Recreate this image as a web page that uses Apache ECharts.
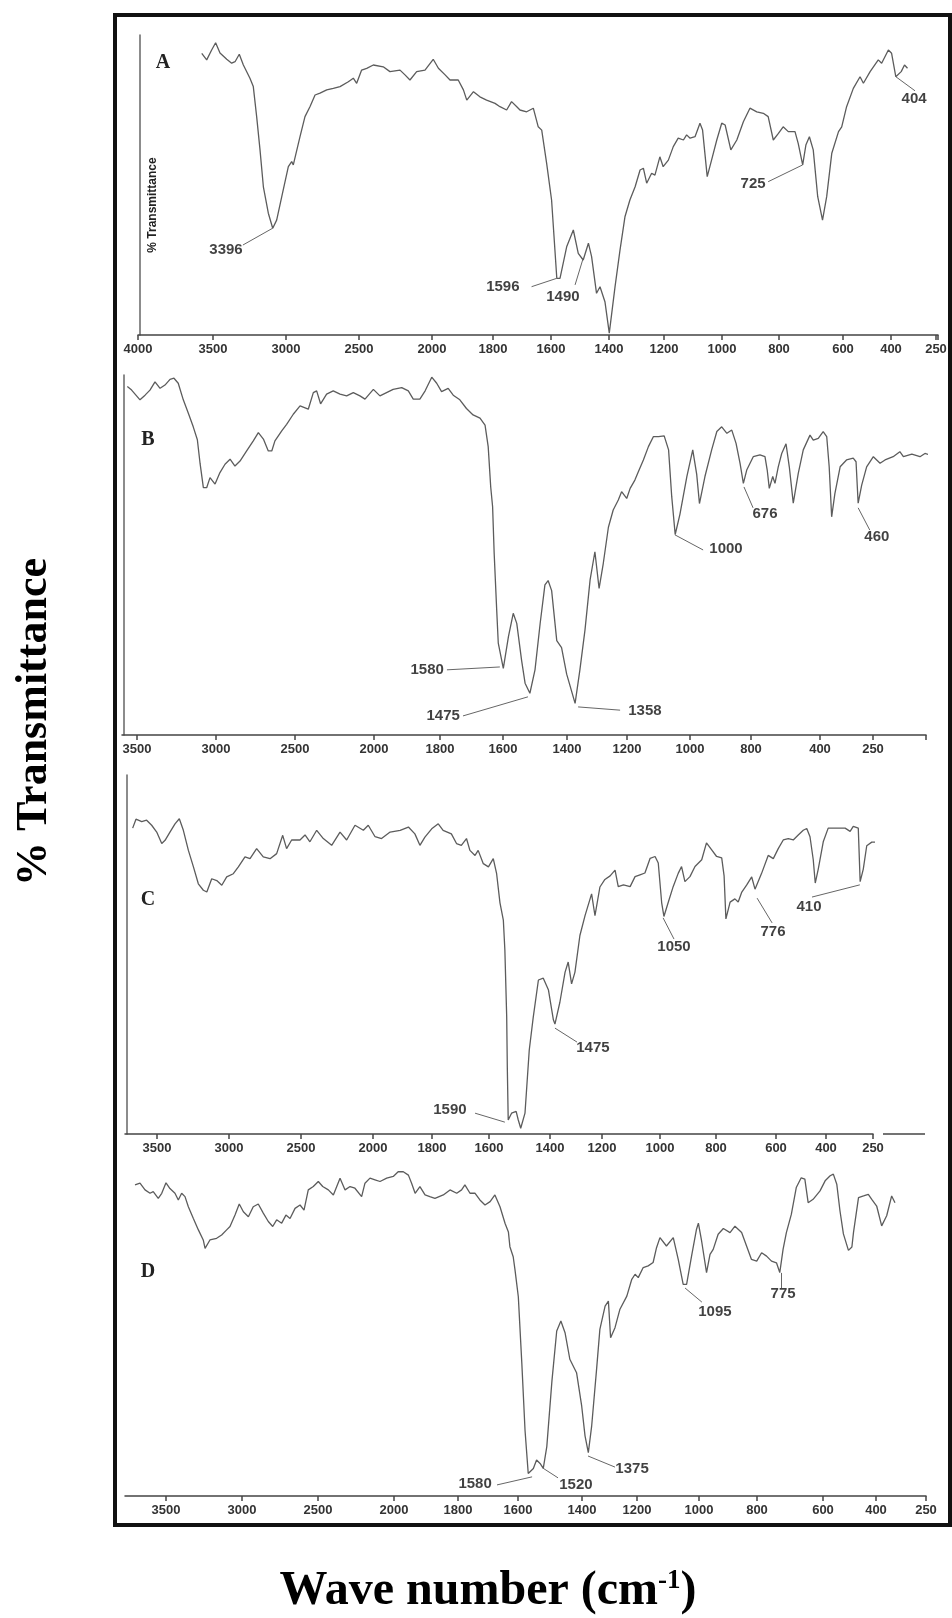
<!DOCTYPE html>
<html>
<head>
<meta charset="utf-8">
<title>IR spectra A-D</title>
<script src="https://cdn.jsdelivr.net/npm/echarts@6/dist/echarts.min.js"></script>
<style>
  html, body { margin: 0; padding: 0; background: #fff; }
  #ir-chart { width: 952px; height: 1618px; }
</style>
</head>
<body>
<div id="ir-chart"></div>
<script>
// printed tick labels (cm-1) under each trace
var ticksA = [4000, 3500, 3000, 2500, 2000, 1800, 1600, 1400, 1200, 1000, 800, 600, 400, 250];
var ticksB = [3500, 3000, 2500, 2000, 1800, 1600, 1400, 1200, 1000, 800, 400, 250];
var ticksC = [3500, 3000, 2500, 2000, 1800, 1600, 1400, 1200, 1000, 800, 600, 400, 250];
var ticksD = [3500, 3000, 2500, 2000, 1800, 1600, 1400, 1200, 1000, 800, 600, 400, 250];

// spectra, [wave number, % transmittance]
var specA = [[3575,93.9],[3542,91.7],[3509,95],[3482,97.4],[3452,94],[3406,91.9],[3372,90.6],[3349,91.1],[3320,93.6],[3292,90],[3247,85.6],[3224,82.8],[3201,72.8],[3178,61.7],[3155,49.4],[3121,40.6],[3091,35.6],[3064,38.3],[3029,46.1],[2984,56.1],[2961,57.8],[2950,56.7],[2904,66.1],[2870,72.8],[2836,76.1],[2801,80],[2767,80.6],[2721,81.7],[2676,82.2],[2630,82.8],[2573,84.4],[2539,85.6],[2516,83.9],[2482,88.3],[2447,88.9],[2402,90],[2334,89.4],[2288,87.8],[2219,88.3],[2185,86.7],[2151,85],[2105,87.8],[2048,88.3],[1996,91.9],[1979,88.9],[1957,86.7],[1941,85],[1914,85],[1897,81.7],[1886,78.3],[1864,81.1],[1843,79.4],[1821,78.3],[1793,77.2],[1776,76.1],[1753,75],[1736,77.8],[1718,76.1],[1707,75],[1684,74.4],[1661,75.6],[1644,69.4],[1632,68.3],[1615,57.2],[1598,45],[1580,18.9],[1569,18.9],[1546,29.4],[1523,35],[1506,27.2],[1489,25],[1471,30.6],[1460,26.1],[1443,13.9],[1431,16.1],[1414,11.1],[1399,0.6],[1378,16.1],[1360,28.3],[1342,39.4],[1324,45],[1305,49.4],[1287,55],[1275,55.6],[1263,50.6],[1245,53.9],[1233,53.3],[1215,59.4],[1203,56.1],[1185,58.3],[1168,62.8],[1151,65.6],[1133,65],[1122,66.7],[1110,65.6],[1093,66.1],[1076,70.6],[1067,68.3],[1051,52.8],[1036,58.3],[1018,65],[1001,70.6],[989,70],[969,61.7],[948,65],[925,71.1],[902,75.6],[878,74.4],[855,73.9],[838,72.8],[820,65],[802,67.2],[787,69.4],[771,67.8],[750,67.8],[740,63.9],[726,56.7],[716,63.3],[705,66.1],[693,61.7],[679,46.1],[664,38.3],[651,46.1],[635,60.6],[614,67.8],[604,69.4],[585,76.1],[557,82.2],[529,86.1],[515,83.9],[487,87.8],[453,91.7],[439,90.6],[411,95],[398,93.9],[384,86.1],[366,87.8],[355,90],[345,88.9]];

var specB = [[3561,96.8],[3534,95.8],[3481,93.1],[3449,94.4],[3418,95.8],[3386,98.1],[3354,96.3],[3323,97.2],[3291,98.8],[3266,99.1],[3239,97.7],[3207,93.1],[3175,89.4],[3144,85.6],[3118,82],[3101,75.5],[3080,68.7],[3059,68.7],[3038,71.5],[3006,69.7],[2975,72.9],[2943,75.2],[2911,76.6],[2880,74.7],[2848,76.1],[2806,78.9],[2764,81.7],[2732,84],[2700,82.2],[2669,78.9],[2647,78.9],[2627,81.7],[2584,84.5],[2553,86.3],[2511,89.1],[2468,91.4],[2416,90.5],[2384,95.1],[2363,95.6],[2338,92],[2300,94.7],[2258,95.6],[2215,94.7],[2173,94.2],[2131,95.1],[2089,94.2],[2057,93.3],[2004,96],[1982,94.2],[1962,95.1],[1942,96],[1916,96.5],[1896,95.6],[1881,93.3],[1861,93.3],[1845,95.6],[1825,99.4],[1810,97.7],[1795,95.4],[1774,96.3],[1758,94.4],[1737,93.1],[1716,90.7],[1695,88.9],[1673,88],[1657,86.1],[1647,80.1],[1639,68.9],[1633,63.4],[1628,50.4],[1620,34.7],[1615,25.5],[1599,18.5],[1583,27.3],[1568,33.8],[1557,31],[1542,20.8],[1531,14.4],[1516,11.6],[1500,18.1],[1484,30.9],[1469,41.7],[1459,42.9],[1448,40.1],[1432,26.2],[1417,24.3],[1401,16.9],[1373,8.8],[1357,18.1],[1340,29.2],[1323,43.1],[1307,50.9],[1293,40.7],[1279,47.7],[1262,57.7],[1246,62.5],[1229,65.3],[1218,67.6],[1201,65.7],[1190,68.5],[1175,70.8],[1164,73.1],[1148,76.4],[1132,80.1],[1116,82.9],[1100,82.9],[1082,83.1],[1068,79.2],[1058,66.2],[1047,55.7],[1032,61.3],[1010,71.8],[991,79.2],[978,72.4],[969,64.3],[951,71.8],[929,79.2],[912,84.3],[896,85.6],[879,83.8],[863,84.7],[849,81],[836,75.5],[825,69.9],[814,73.6],[787,77.3],[748,77.8],[719,77.3],[706,73.6],[694,68.5],[674,71.8],[661,69.9],[642,74.5],[622,78.2],[597,80.9],[578,74.5],[555,64.4],[526,72.7],[497,79.2],[458,83.3],[439,81.9],[410,82.4],[391,84.3],[381,82.9],[374,74.5],[367,60.6],[358,67],[343,74.5],[325,76.4],[306,76.9],[298,75.9],[292,64.4],[282,69.4],[268,74.5],[249,77.3],[230,75.5],[216,76.4],[193,77.3],[174,78.7],[164,77.3],[140,78],[117,77.3],[103,78.2],[79,77.5],[51,77.5]];

var specC = [[3669,85.2],[3646,87.7],[3606,87],[3572,87.4],[3537,86],[3502,84.1],[3467,80.9],[3444,81.8],[3410,84.1],[3375,86.4],[3345,87.8],[3317,84.6],[3282,79],[3247,74.4],[3213,69.7],[3178,67.9],[3154,67.4],[3120,71.1],[3085,70.6],[3050,69.3],[3016,71.6],[2970,72.5],[2935,74.4],[2889,77.2],[2854,76.7],[2808,79.5],[2762,77.2],[2715,76.7],[2669,78.1],[2627,83.2],[2600,79.5],[2565,81.9],[2507,81.9],[2472,83.3],[2438,81.4],[2391,84.6],[2345,82.3],[2287,80.4],[2229,84.1],[2183,81.9],[2125,86],[2067,84.6],[2033,86],[1993,82.8],[1971,82.3],[1942,84.1],[1908,84.6],[1880,85.5],[1858,83.6],[1841,80.4],[1824,82.7],[1801,85],[1778,86.4],[1761,84.6],[1732,83.6],[1714,80.9],[1697,80.4],[1679,82.3],[1667,79],[1649,77.6],[1638,79],[1620,75.3],[1602,74.4],[1586,76.7],[1575,72.5],[1564,64.4],[1553,59.6],[1548,51.3],[1542,32.7],[1540,18.7],[1537,3.9],[1526,5.8],[1511,6.3],[1504,3.9],[1496,1.6],[1482,5.8],[1468,23.4],[1455,32.5],[1438,42.9],[1422,43.4],[1405,40.1],[1387,31.8],[1381,30.6],[1362,36.7],[1342,45.1],[1330,47.9],[1317,41.8],[1304,45.1],[1285,55.3],[1265,60.9],[1240,66.9],[1227,60.8],[1208,68.8],[1190,70.9],[1172,71.9],[1155,73.5],[1144,68.9],[1126,69.4],[1103,68.9],[1086,71.7],[1069,72.2],[1052,72.7],[1034,76.8],[1017,77.3],[1006,75.5],[994,64.4],[986,60.6],[971,64.4],[953,68.9],[935,72.6],[923,74.5],[911,70.3],[893,71.7],[875,74.5],[851,76.4],[834,81.1],[816,79.2],[798,77.3],[781,76.9],[773,71.9],[767,59.9],[753,64.6],[737,65.5],[726,64.6],[714,67.4],[698,69.3],[681,71.6],[670,68.2],[648,72.6],[626,77.6],[609,76.7],[591,79.5],[571,81.9],[551,82.3],[531,81.9],[511,83.3],[491,84.6],[477,85.1],[464,82.8],[451,76.4],[443,69.9],[431,73.8],[411,81.4],[393,85.2],[366,85.2],[339,85.2],[323,84.3],[313,85.7],[297,85.2],[291,70.3],[281,73.8],[270,80.3],[254,81.3],[233,81.3],[217,81.3],[201,81.7],[190,85],[183,81.3],[164,82.2],[137,82.7],[116,81.7],[84,82.2]];

var specD = [[3704,92.6],[3671,93.1],[3638,91.1],[3605,90.1],[3584,90.6],[3551,88.6],[3528,90.1],[3500,93.2],[3474,91.5],[3441,90.1],[3419,88.1],[3397,90.1],[3375,89.1],[3353,86.1],[3320,82.6],[3287,79.2],[3255,76.2],[3243,73.7],[3211,76.2],[3167,76.7],[3134,77.7],[3101,79.2],[3079,80.2],[3046,83.6],[3018,86.9],[2991,84.6],[2958,83.1],[2926,86.1],[2893,86.9],[2860,84.2],[2827,81.7],[2798,80.2],[2772,82.2],[2739,81.2],[2711,83.6],[2684,82.6],[2651,85.6],[2618,86.6],[2592,85.1],[2564,91.1],[2531,92.1],[2498,93.6],[2469,92.1],[2432,91.1],[2399,89.6],[2355,94.6],[2322,91.1],[2289,92.1],[2257,91.6],[2213,89.1],[2191,93.1],[2158,94.6],[2125,94.1],[2092,93.6],[2048,94.6],[2005,95.1],[1987,96.5],[1971,96.5],[1955,95.5],[1945,93.1],[1934,90.1],[1919,92.1],[1903,89.6],[1888,89.1],[1872,88.6],[1846,89.6],[1825,91.1],[1804,90.1],[1788,91.1],[1777,92.6],[1760,90.1],[1743,90.1],[1727,88.1],[1710,86.6],[1693,87.6],[1677,89.6],[1660,86.1],[1643,81.1],[1632,78.6],[1627,74.2],[1616,71.2],[1610,67.3],[1599,59.3],[1588,39.4],[1578,19.5],[1568,6.7],[1552,8.2],[1542,10.7],[1531,9.7],[1521,8.2],[1510,14.7],[1494,34.2],[1479,49.1],[1466,52.1],[1453,48.6],[1438,40.7],[1417,36.7],[1401,26.8],[1389,17.9],[1377,12.9],[1365,20.7],[1347,37.7],[1335,49.6],[1316,56.5],[1304,58],[1296,47.1],[1280,50.1],[1262,55.6],[1237,59.5],[1219,64.5],[1207,66],[1196,65],[1180,68],[1164,68.5],[1148,69.5],[1137,73.9],[1126,76.9],[1105,74.4],[1083,76.9],[1067,70.4],[1051,63],[1040,63],[1024,71.4],[1008,79.4],[1002,81.2],[991,75.9],[974,66.5],[962,71.9],[951,73.4],[934,77.9],[916,79.6],[893,78.4],[876,80.3],[853,78.4],[836,74.4],[819,70.4],[801,69.9],[786,72.4],[771,71.4],[756,69.9],[741,69.4],[731,66.5],[721,73.4],[711,78.4],[696,83.8],[681,91.8],[666,94.7],[655,94.3],[645,87.3],[630,88.3],[609,90.8],[592,93.8],[573,95.3],[561,95.8],[548,92.8],[536,84.9],[523,78],[504,73.1],[491,74.1],[485,78.4],[466,88.8],[447,89.3],[429,89.8],[416,88.3],[398,86.3],[383,80.4],[368,83.4],[353,89.3],[343,87.3]];

// peak annotations printed on each trace
var peaksA = ['3396', '1596', '1490', '725', '404'];
var peaksB = ['1580', '1475', '1358', '1000', '676', '460'];
var peaksC = ['1590', '1475', '1050', '776', '410'];
var peaksD = ['1580', '1520', '1375', '1095', '775'];

// where each annotation text and its leader sit, in [wave number, %T]
var notesA = [
  { text: [3411, 28.3], line: [[3295, 30], [3091, 35.6]] },
  { text: [1766, 16], line: [[1667, 16.1], [1580, 18.9]] },
  { text: [1559, 12.7], line: [[1517, 16.7], [1489, 25.6]] },
  { text: [891, 50.3], line: [[838, 51.1], [726, 56.7]] },
  { text: [323, 78.7], line: [[384, 86.1], [320, 81.4]] }
];
var notesB = [
  { text: [1839, 18.1], line: [[1778, 18.1], [1610, 18.9]] },
  { text: [1790, 5.3], line: [[1727, 5.3], [1522, 10.6]] },
  { text: [1143, 6.7], line: [[1363, 7.8], [1223, 6.9]] },
  { text: [882, 51.7], line: [[1048, 55.6], [957, 51.4]] },
  { text: [719, 61.4], line: [[823, 68.9], [788, 63.1]] },
  { text: [239, 55], line: [[292, 63.1], [259, 56.9]] }
];
var notesC = [
  { text: [1737, 6.7], line: [[1649, 5.8], [1548, 3.3]] },
  { text: [1235, 24], line: [[1381, 29.5], [1296, 25.6]] },
  { text: [950, 52.1], line: [[989, 60.2], [950, 54.3]] },
  { text: [610, 56.3], line: [[663, 65.7], [613, 58.8]] },
  { text: [468, 63.2], line: [[456, 66], [292, 69.4]] }
];
var notesD = [
  { text: [1743, 3.6], line: [[1670, 3.3], [1556, 5.7]] },
  { text: [1419, 3.3], line: [[1522, 8.3], [1475, 5.4]] },
  { text: [1218, 8], line: [[1378, 11.9], [1280, 8.6]] },
  { text: [945, 54.8], line: [[1045, 61.9], [990, 57.7]] },
  { text: [721, 60.1], line: [[727, 66.4], [727, 61.9]] }
];

// layout of the four stacked traces (the printed scales are not linear,
// so each printed tick gets its own place on the paper)
var panels = [
  { letter: 'A', ticks: ticksA, spec: specA, peaks: peaksA, notes: notesA,
    start: 138, end: 938, top: 35, height: 300, yLine: true, letterAt: [163, 63],
    tickPos: [138, 213, 286, 359, 432, 493, 551, 609, 664, 722, 779, 843, 891, 936] },
  { letter: 'B', ticks: ticksB, spec: specB, peaks: peaksB, notes: notesB,
    start: 122, end: 926, top: 375, height: 360, yLine: true, letterAt: [148, 440],
    tickPos: [137, 216, 295, 374, 440, 503, 567, 627, 690, 751, 820, 873] },
  { letter: 'C', ticks: ticksC, spec: specC, peaks: peaksC, notes: notesC,
    start: 125, end: 873, top: 775, height: 359, yLine: true, letterAt: [148, 900],
    tickPos: [157, 229, 301, 373, 432, 489, 550, 602, 660, 716, 776, 826, 873] },
  { letter: 'D', ticks: ticksD, spec: specD, peaks: peaksD, notes: notesD,
    start: 125, end: 926, top: 1160, height: 336, yLine: false, letterAt: [148, 1272],
    tickPos: [166, 242, 318, 394, 458, 518, 582, 637, 699, 757, 823, 876, 926] }
];

function toPaper(wn, p) {
  // piecewise linear between printed ticks, extrapolated past the ends
  var t = p.ticks, q = p.tickPos, i = 0;
  while (i < t.length - 2 && wn < t[i + 1]) i++;
  return q[i] + (wn - t[i]) / (t[i + 1] - t[i]) * (q[i + 1] - q[i]);
}

initChart();
function initChart() {
  var dom = document.getElementById('ir-chart');
  var myChart = echarts.init(dom, null, { renderer: 'canvas' });

  var grids = [], xAxes = [], yAxes = [], series = [], graphics = [];

  panels.forEach(function (p, k) {
    grids.push({ left: p.start, top: p.top, width: p.end - p.start, height: p.height,
      outerBoundsMode: 'none', containLabel: false });

    var tickVals = p.tickPos.slice();
    if (tickVals.indexOf(p.end) < 0) tickVals.push(p.end);

    xAxes.push({
      type: 'value', gridIndex: k, min: p.start, max: p.end,
      axisLine: { onZero: false, lineStyle: { color: '#444', width: 1.5 } },
      axisTick: { customValues: tickVals, length: 5, lineStyle: { color: '#444', width: 1.5 } },
      axisLabel: {
        customValues: p.tickPos, margin: 8,
        fontSize: 13, fontWeight: 'bold', color: '#333', fontFamily: 'Liberation Sans',
        formatter: function (v) {
          for (var i = 0; i < p.tickPos.length; i++) {
            if (Math.abs(p.tickPos[i] - v) < 0.5) return String(p.ticks[i]);
          }
          return '';
        }
      },
      splitLine: { show: false }
    });

    yAxes.push({
      type: 'value', gridIndex: k, min: 0, max: 100, offset: -2,
      axisLine: { show: p.yLine, onZero: false, lineStyle: { color: '#666', width: 1.5 } },
      axisTick: { show: false }, axisLabel: { show: false }, splitLine: { show: false }
    });

    series.push({
      type: 'line', xAxisIndex: k, yAxisIndex: k,
      data: p.spec.map(function (d) { return [toPaper(d[0], p), d[1]]; }),
      showSymbol: false, symbol: 'none', clip: false, silent: true,
      lineStyle: { color: '#5c5c5c', width: 1.3 },
      markLine: {
        silent: true, symbol: ['none', 'none'], label: { show: false },
        lineStyle: { color: '#666', width: 1, type: 'solid' },
        data: p.notes.map(function (n) {
          return [
            { coord: [toPaper(n.line[0][0], p), n.line[0][1]] },
            { coord: [toPaper(n.line[1][0], p), n.line[1][1]] }
          ];
        })
      }
    });

    series.push({
      type: 'scatter', xAxisIndex: k, yAxisIndex: k, silent: true,
      symbolSize: 1, itemStyle: { color: 'rgba(0,0,0,0)' },
      data: p.notes.map(function (n, i) {
        return { value: [toPaper(n.text[0], p), n.text[1]], name: p.peaks[i] };
      }),
      label: { show: true, position: 'inside', formatter: '{b}',
        fontSize: 15, fontWeight: 'bold', color: '#111', fontFamily: 'Liberation Sans' }
    });

    graphics.push({ type: 'text', x: p.letterAt[0], y: p.letterAt[1],
      style: { text: p.letter, fontSize: 20, fontWeight: 'bold', fontFamily: 'Liberation Serif',
        fill: '#222', align: 'center', verticalAlign: 'middle' } });
  });

  // outer frame
  graphics.push({ type: 'rect', shape: { x: 115, y: 15, width: 835, height: 1510 },
    style: { fill: 'none', stroke: '#111', lineWidth: 4 } });
  // loose piece of axis printed to the right of trace C
  graphics.push({ type: 'line', shape: { x1: 883, y1: 1134, x2: 925, y2: 1134 },
    style: { stroke: '#444', lineWidth: 1.5 } });
  // small axis title printed inside trace A
  graphics.push({ type: 'text', x: 153, y: 205, rotation: Math.PI / 2,
    style: { text: '% Transmittance', fontSize: 12, fontWeight: 'bold', fontFamily: 'Liberation Sans',
      fill: '#222', align: 'center', verticalAlign: 'middle' } });
  // figure axis titles
  graphics.push({ type: 'text', x: 35, y: 722, rotation: Math.PI / 2,
    style: { text: '% Transmittance', fontSize: 44, fontWeight: 'bold', fontFamily: 'Liberation Serif',
      fill: '#000', align: 'center', verticalAlign: 'middle' } });
  graphics.push({ type: 'text', x: 488, y: 1592,
    style: {
      text: '{m|Wave number (cm}{s|-1}{m|)}',
      align: 'center', verticalAlign: 'middle', fill: '#000',
      rich: {
        m: { fontSize: 48, fontWeight: 'bold', fontFamily: 'Liberation Serif', fill: '#000' },
        s: { fontSize: 27, fontWeight: 'bold', fontFamily: 'Liberation Serif', fill: '#000', verticalAlign: 'top' }
      }
    } });

  var option = {
    backgroundColor: '#fff',
    animation: false,
    grid: grids,
    xAxis: xAxes,
    yAxis: yAxes,
    series: series,
    graphic: graphics
  };

  if (option && typeof option === 'object') {
    myChart.setOption(option);
  }
  window.addEventListener('resize', myChart.resize);
}
</script>
</body>
</html>
